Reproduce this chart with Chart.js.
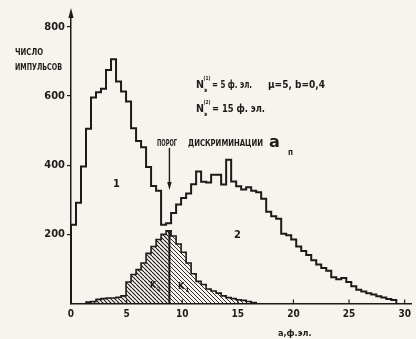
<!DOCTYPE html>
<html>
<head>
<meta charset="utf-8">
<script src="https://cdn.jsdelivr.net/npm/chart.js@4.4.1/dist/chart.umd.min.js"></script>
<style>
  html, body { margin: 0; padding: 0; background: #f6f4ee; }
  #wrap { width: 416px; height: 339px; position: relative; }
</style>
</head>
<body>
<div id="wrap"><canvas id="chart"></canvas></div>
<script>
// ---- data ----
const BIN = 0.45;                       // histogram bin width, ф.эл.
const xTicks = [0, 5, 10, 15, 20, 25, 30];
const yTicks = [200, 400, 600, 800];
// outer outline of distributions 1 and 2, one count per bin starting at 0
const envelope = [228, 291, 396, 505, 596, 611, 621, 675, 706, 642, 613, 584,
  507, 470, 452, 395, 340, 326, 228, 232,
  262, 286, 305, 318, 345, 382, 352, 350, 372, 372,
  344, 416, 353, 339, 330, 336, 326, 322, 303, 265,
  252, 245, 202, 197, 185, 165, 152, 140, 125, 113,
  103, 95, 76, 70, 74, 62, 50, 40, 35, 30,
  26, 21, 17, 13, 10];
// overlap region (hatched), starting at bin 3
const overlapFirstBin = 3;
const overlap = [4, 6, 12, 14, 16, 16, 18, 22, 62, 84,
  98, 117, 145, 165, 185, 200, 210, 195, 172, 148,
  117, 86, 64, 55, 42, 36, 30, 22, 17, 14,
  11, 9, 6, 3];
const threshold = 8.85;                 // порог дискриминации a_п

const ink = '#1e1a17';
const FONT = '"DejaVu Sans Condensed", "Liberation Sans Narrow", "DejaVu Sans", sans-serif';

const edge = i => +(i * BIN).toFixed(3);

// stepped outline points: rise from 0, one point per bin, drop to 0
function stepPts(values, firstBin) {
  const pts = [{ x: edge(firstBin), y: 0 }];
  values.forEach((v, i) => pts.push({ x: edge(firstBin + i), y: v }));
  pts.push({ x: edge(firstBin + values.length), y: 0 });
  return pts;
}

const envPts = stepPts(envelope, 0);
const ovAll = stepPts(overlap, overlapFirstBin);
const inner = ovAll.slice(1, -1);
const thrVal = inner.filter(p => p.x <= threshold).slice(-1)[0].y;
const leftPts = [ovAll[0], ...inner.filter(p => p.x <= threshold), { x: threshold, y: 0 }];
const rightPts = [{ x: threshold, y: 0 }, { x: threshold, y: thrVal },
  ...inner.filter(p => p.x > threshold), ovAll[ovAll.length - 1]];

function hatch(s, w) {
  const c = document.createElement('canvas');
  c.width = c.height = s;
  const g = c.getContext('2d');
  g.strokeStyle = ink; g.lineWidth = w;
  g.beginPath();
  [-s, 0, s].forEach(x0 => { g.moveTo(x0, 0); g.lineTo(x0 + s, s); });
  g.stroke();
  return g.createPattern(c, 'repeat');
}

function txt(ctx, s, x, y, size, w, opts = {}) {
  ctx.font = `${opts.style || ''} bold ${size}px ${opts.family || FONT}`;
  ctx.fillStyle = ink;
  ctx.textAlign = opts.align || 'left';
  ctx.textBaseline = 'alphabetic';
  if (w) ctx.fillText(s, x, y, w); else ctx.fillText(s, x, y);
}

const notes = {
  id: 'notes',
  afterDraw(chart) {
    const { ctx, chartArea: a, scales: { x, y } } = chart;
    ctx.save();
    // y axis arrow
    const ax = a.left;
    ctx.strokeStyle = ink; ctx.fillStyle = ink; ctx.lineWidth = 1.5;
    ctx.beginPath(); ctx.moveTo(ax, a.top); ctx.lineTo(ax, 14); ctx.stroke();
    ctx.beginPath(); ctx.moveTo(ax, 8); ctx.lineTo(ax - 2.6, 18); ctx.lineTo(ax + 2.6, 18); ctx.closePath(); ctx.fill();
    // small upward ticks on the x axis
    ctx.lineWidth = 1.2;
    xTicks.slice(1).forEach(v => {
      const px = x.getPixelForValue(v);
      ctx.beginPath(); ctx.moveTo(px, a.bottom); ctx.lineTo(px, a.bottom - 4); ctx.stroke();
    });
    // threshold arrow
    const tx = x.getPixelForValue(threshold);
    const t0 = y.getPixelForValue(450), t1 = y.getPixelForValue(328);
    ctx.lineWidth = 1.4;
    ctx.beginPath(); ctx.moveTo(tx, t0); ctx.lineTo(tx, t1 - 6); ctx.stroke();
    ctx.beginPath(); ctx.moveTo(tx, t1); ctx.lineTo(tx - 2.2, t1 - 8); ctx.lineTo(tx + 2.2, t1 - 8); ctx.closePath(); ctx.fill();

    // texts
    txt(ctx, 'ЧИСЛО', 15, 55, 8, 28);
    txt(ctx, 'ИМПУЛЬСОВ', 15, 70, 8, 47);

    txt(ctx, 'N', 196, 88, 11, 8);
    txt(ctx, '(1)', 203.5, 80, 5.5, 7);
    txt(ctx, 'э', 204, 92, 6, 5);
    txt(ctx, '= 5 ф. эл.', 212, 88, 10, 40);
    txt(ctx, 'μ=5, b=0,4', 268, 88, 10, 64);

    txt(ctx, 'N', 196, 112, 11, 8);
    txt(ctx, '(2)', 203.5, 104, 5.5, 7);
    txt(ctx, 'э', 204, 116, 6, 5);
    txt(ctx, '= 15 ф. эл.', 212, 112, 10, 53);

    txt(ctx, 'ПОРОГ', 157, 146, 8, 20);
    txt(ctx, 'ДИСКРИМИНАЦИИ', 188, 146, 8, 75);
    txt(ctx, 'a', 269, 147, 16, 14, { family: '"DejaVu Sans", sans-serif' });
    txt(ctx, 'п', 288, 155, 8, 7);

    txt(ctx, '1', 113, 187, 11);
    txt(ctx, '2', 234, 238, 11);
    txt(ctx, 'K', 150, 288, 9);
    txt(ctx, '2', 157, 291, 6);
    txt(ctx, 'K', 178, 289, 9);
    txt(ctx, '1', 185.5, 292, 6);

    txt(ctx, 'a,ф.эл.', 278, 336, 9, 37);
    ctx.restore();
  }
};

const hatchL = hatch(4, 1.1);
const hatchR = hatch(4, 0.9);

new Chart(document.getElementById('chart'), {
  type: 'line',
  data: {
    datasets: [
      { data: envPts, borderColor: ink, borderWidth: 2, fill: false, stepped: true, pointRadius: 0, order: 0 },
      { data: leftPts, borderColor: ink, borderWidth: 1.6, backgroundColor: hatchL, fill: 'origin', stepped: true, pointRadius: 0, order: 1 },
      { data: rightPts, borderColor: ink, borderWidth: 1.6, backgroundColor: hatchR, fill: 'origin', stepped: true, pointRadius: 0, order: 1 },
    ],
  },
  options: {
    responsive: true,
    maintainAspectRatio: false,
    animation: false,
    layout: { padding: { top: 13, right: 4.5, left: 0, bottom: 0 } },
    plugins: { legend: { display: false }, tooltip: { enabled: false } },
    scales: {
      x: {
        type: 'linear', min: 0, max: 30.6,
        afterBuildTicks: s => { s.ticks = xTicks.map(v => ({ value: v })); },
        afterFit: s => { s.height = 35.5; },
        ticks: { color: ink, font: { family: FONT, size: 10, weight: 'bold' }, padding: 5, maxRotation: 0, autoSkip: false },
        grid: { display: false, drawTicks: false },
        border: { display: true, color: ink, width: 1.5 },
      },
      y: {
        min: 0, max: 840,
        afterBuildTicks: s => { s.ticks = yTicks.map(v => ({ value: v })); },
        afterFit: s => { s.width = 71; },
        ticks: { color: ink, font: { family: FONT, size: 11, weight: 'bold' }, padding: 2 },
        grid: { display: true, drawOnChartArea: false, drawTicks: true, tickLength: 4, color: ink, lineWidth: 1.2 },
        border: { display: true, color: ink, width: 1.5 },
      },
    },
  },
  plugins: [notes],
});
</script>
</body>
</html>
